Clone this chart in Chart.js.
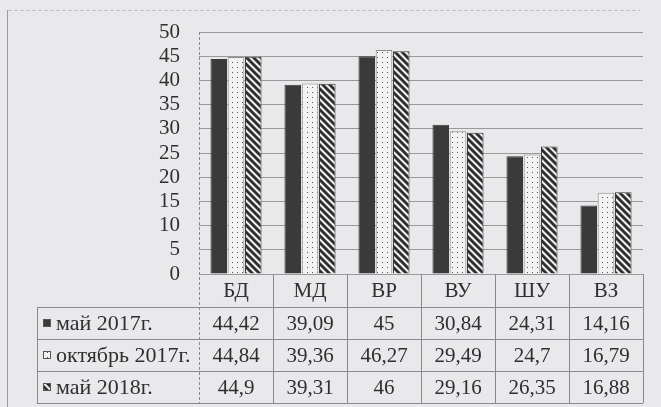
<!DOCTYPE html>
<html>
<head>
<meta charset="utf-8">
<script src="https://cdn.jsdelivr.net/npm/chart.js@4.4.1/dist/chart.umd.min.js"></script>
<style>
html,body{margin:0;padding:0;background:#e9e9eb;}
#wrap{width:661px;height:407px;position:relative;}
</style>
</head>
<body>
<div id="wrap"><canvas id="c" width="661" height="407"></canvas></div>
<script>
const categories = ['БД', 'МД', 'ВР', 'ВУ', 'ШУ', 'ВЗ'];
const seriesNames = ['май 2017г.', 'октябрь 2017г.', 'май 2018г.'];
const may2017 = [44.42, 39.09, 45, 30.84, 24.31, 14.16];
const oct2017 = [44.84, 39.36, 46.27, 29.49, 24.7, 16.79];
const may2018 = [44.9, 39.31, 46, 29.16, 26.35, 16.88];
const yTicks = [0, 5, 10, 15, 20, 25, 30, 35, 40, 45, 50];

const FONT = '"Liberation Serif", "Times New Roman", serif';
const TEXT = '#2f2f2f';

function dotPattern() {
  const c = document.createElement('canvas'); c.width = 5; c.height = 5;
  const g = c.getContext('2d');
  g.fillStyle = '#f3f3f3'; g.fillRect(0, 0, 5, 5);
  g.fillStyle = '#555'; g.fillRect(2, 2, 1, 1);
  return g.createPattern(c, 'repeat');
}
function hatchPattern() {
  const s = 7;
  const c = document.createElement('canvas'); c.width = s; c.height = s;
  const g = c.getContext('2d');
  g.fillStyle = '#eeeeee'; g.fillRect(0, 0, s, s);
  g.strokeStyle = '#2e2e2e'; g.lineWidth = 2.8;
  [-s, 0, s].forEach(o => {
    g.beginPath(); g.moveTo(o - 1, -1); g.lineTo(o + s + 1, s + 1); g.stroke();
  });
  return g.createPattern(c, 'repeat');
}
const fills = ['#3a3a3a', dotPattern(), hatchPattern()];
const seriesData = [may2017, oct2017, may2018];

const tablePlugin = {
  id: 'tablePlugin',
  beforeDraw(chart) {
    const ctx = chart.ctx;
    ctx.save();
    ctx.fillStyle = '#e9e9eb';
    ctx.fillRect(0, 0, chart.width, chart.height);
    ctx.strokeStyle = '#9c9c9c'; ctx.lineWidth = 1;
    ctx.beginPath(); ctx.moveTo(7.5, 10); ctx.lineTo(7.5, 407); ctx.stroke();
    ctx.strokeStyle = '#c4c4c6'; ctx.setLineDash([4, 2]);
    ctx.beginPath(); ctx.moveTo(8, 10.5); ctx.lineTo(640, 10.5); ctx.stroke();
    ctx.restore();
  },
  afterDraw(chart) {
    const ctx = chart.ctx;
    const xs = chart.scales.x;
    const area = chart.chartArea;
    const n = categories.length;
    const colW = (area.right - area.left) / n;
    const top = area.bottom;
    const headerH = 33, rowH = 32;
    const rowsTop = top + headerH;
    const bottom = rowsTop + rowH * 3;
    const leftCol = 37;
    ctx.save();
    ctx.strokeStyle = '#8a8a8a'; ctx.lineWidth = 1;
    ctx.setLineDash([3, 2]);
    ctx.beginPath(); ctx.moveTo(Math.round(area.left) + 0.5, area.top); ctx.lineTo(Math.round(area.left) + 0.5, bottom); ctx.stroke();
    ctx.setLineDash([]);
    for (let i = 1; i <= n; i++) {
      const x = Math.round(area.left + colW * i) + 0.5;
      ctx.beginPath(); ctx.moveTo(x, top); ctx.lineTo(x, bottom); ctx.stroke();
    }
    ctx.beginPath(); ctx.moveTo(leftCol + 0.5, rowsTop); ctx.lineTo(leftCol + 0.5, bottom); ctx.stroke();
    for (let r = 0; r <= 3; r++) {
      const y = Math.round(rowsTop + rowH * r) + 0.5;
      ctx.beginPath(); ctx.moveTo(leftCol, y); ctx.lineTo(area.right, y); ctx.stroke();
    }
    ctx.fillStyle = TEXT;
    ctx.textBaseline = 'middle';
    ctx.textAlign = 'center';
    ctx.font = '21px ' + FONT;
    categories.forEach((c, i) => {
      ctx.fillText(c, xs.getPixelForValue(i), top + headerH / 2 + 1);
    });
    seriesData.forEach((arr, r) => {
      const cy = rowsTop + rowH * r + rowH / 2 + 1;
      arr.forEach((v, i) => {
        ctx.fillText(String(v).replace('.', ','), xs.getPixelForValue(i), cy);
      });
    });
    ctx.textAlign = 'left';
    seriesNames.forEach((name, r) => {
      const cy = rowsTop + rowH * r + rowH / 2;
      ctx.fillStyle = fills[r];
      ctx.fillRect(43, cy - 4, 8, 8);
      ctx.strokeStyle = '#555';
      ctx.strokeRect(43.5, cy - 3.5, 7, 7);
      ctx.fillStyle = TEXT;
      ctx.font = '22px ' + FONT;
      ctx.fillText(name, 56, cy + 1);
    });
    ctx.restore();
  }
};

new Chart(document.getElementById('c'), {
  type: 'bar',
  data: {
    labels: categories,
    datasets: seriesNames.map((name, i) => ({
      label: name,
      data: seriesData[i],
      backgroundColor: fills[i],
      borderColor: i === 1 ? '#8a8a8a' : '#3a3a3a',
      borderWidth: 1,
      categoryPercentage: 0.7,
      barPercentage: 0.96
    }))
  },
  options: {
    responsive: false,
    animation: false,
    devicePixelRatio: 1,
    layout: { padding: { left: 150, right: 18, top: 32, bottom: 133 } },
    plugins: { legend: { display: false }, tooltip: { enabled: false } },
    scales: {
      x: { display: false },
      y: {
        min: 0, max: 50,
        afterBuildTicks(scale) { scale.ticks = yTicks.map(v => ({ value: v })); },
        afterFit(scale) { scale.width = 49; },
        border: { display: false },
        grid: { color: '#9a9a9a', lineWidth: 1, drawTicks: false },
        ticks: { color: TEXT, font: { family: FONT, size: 21 }, padding: 19, autoSkip: false }
      }
    }
  },
  plugins: [tablePlugin]
});
</script>
</body>
</html>
